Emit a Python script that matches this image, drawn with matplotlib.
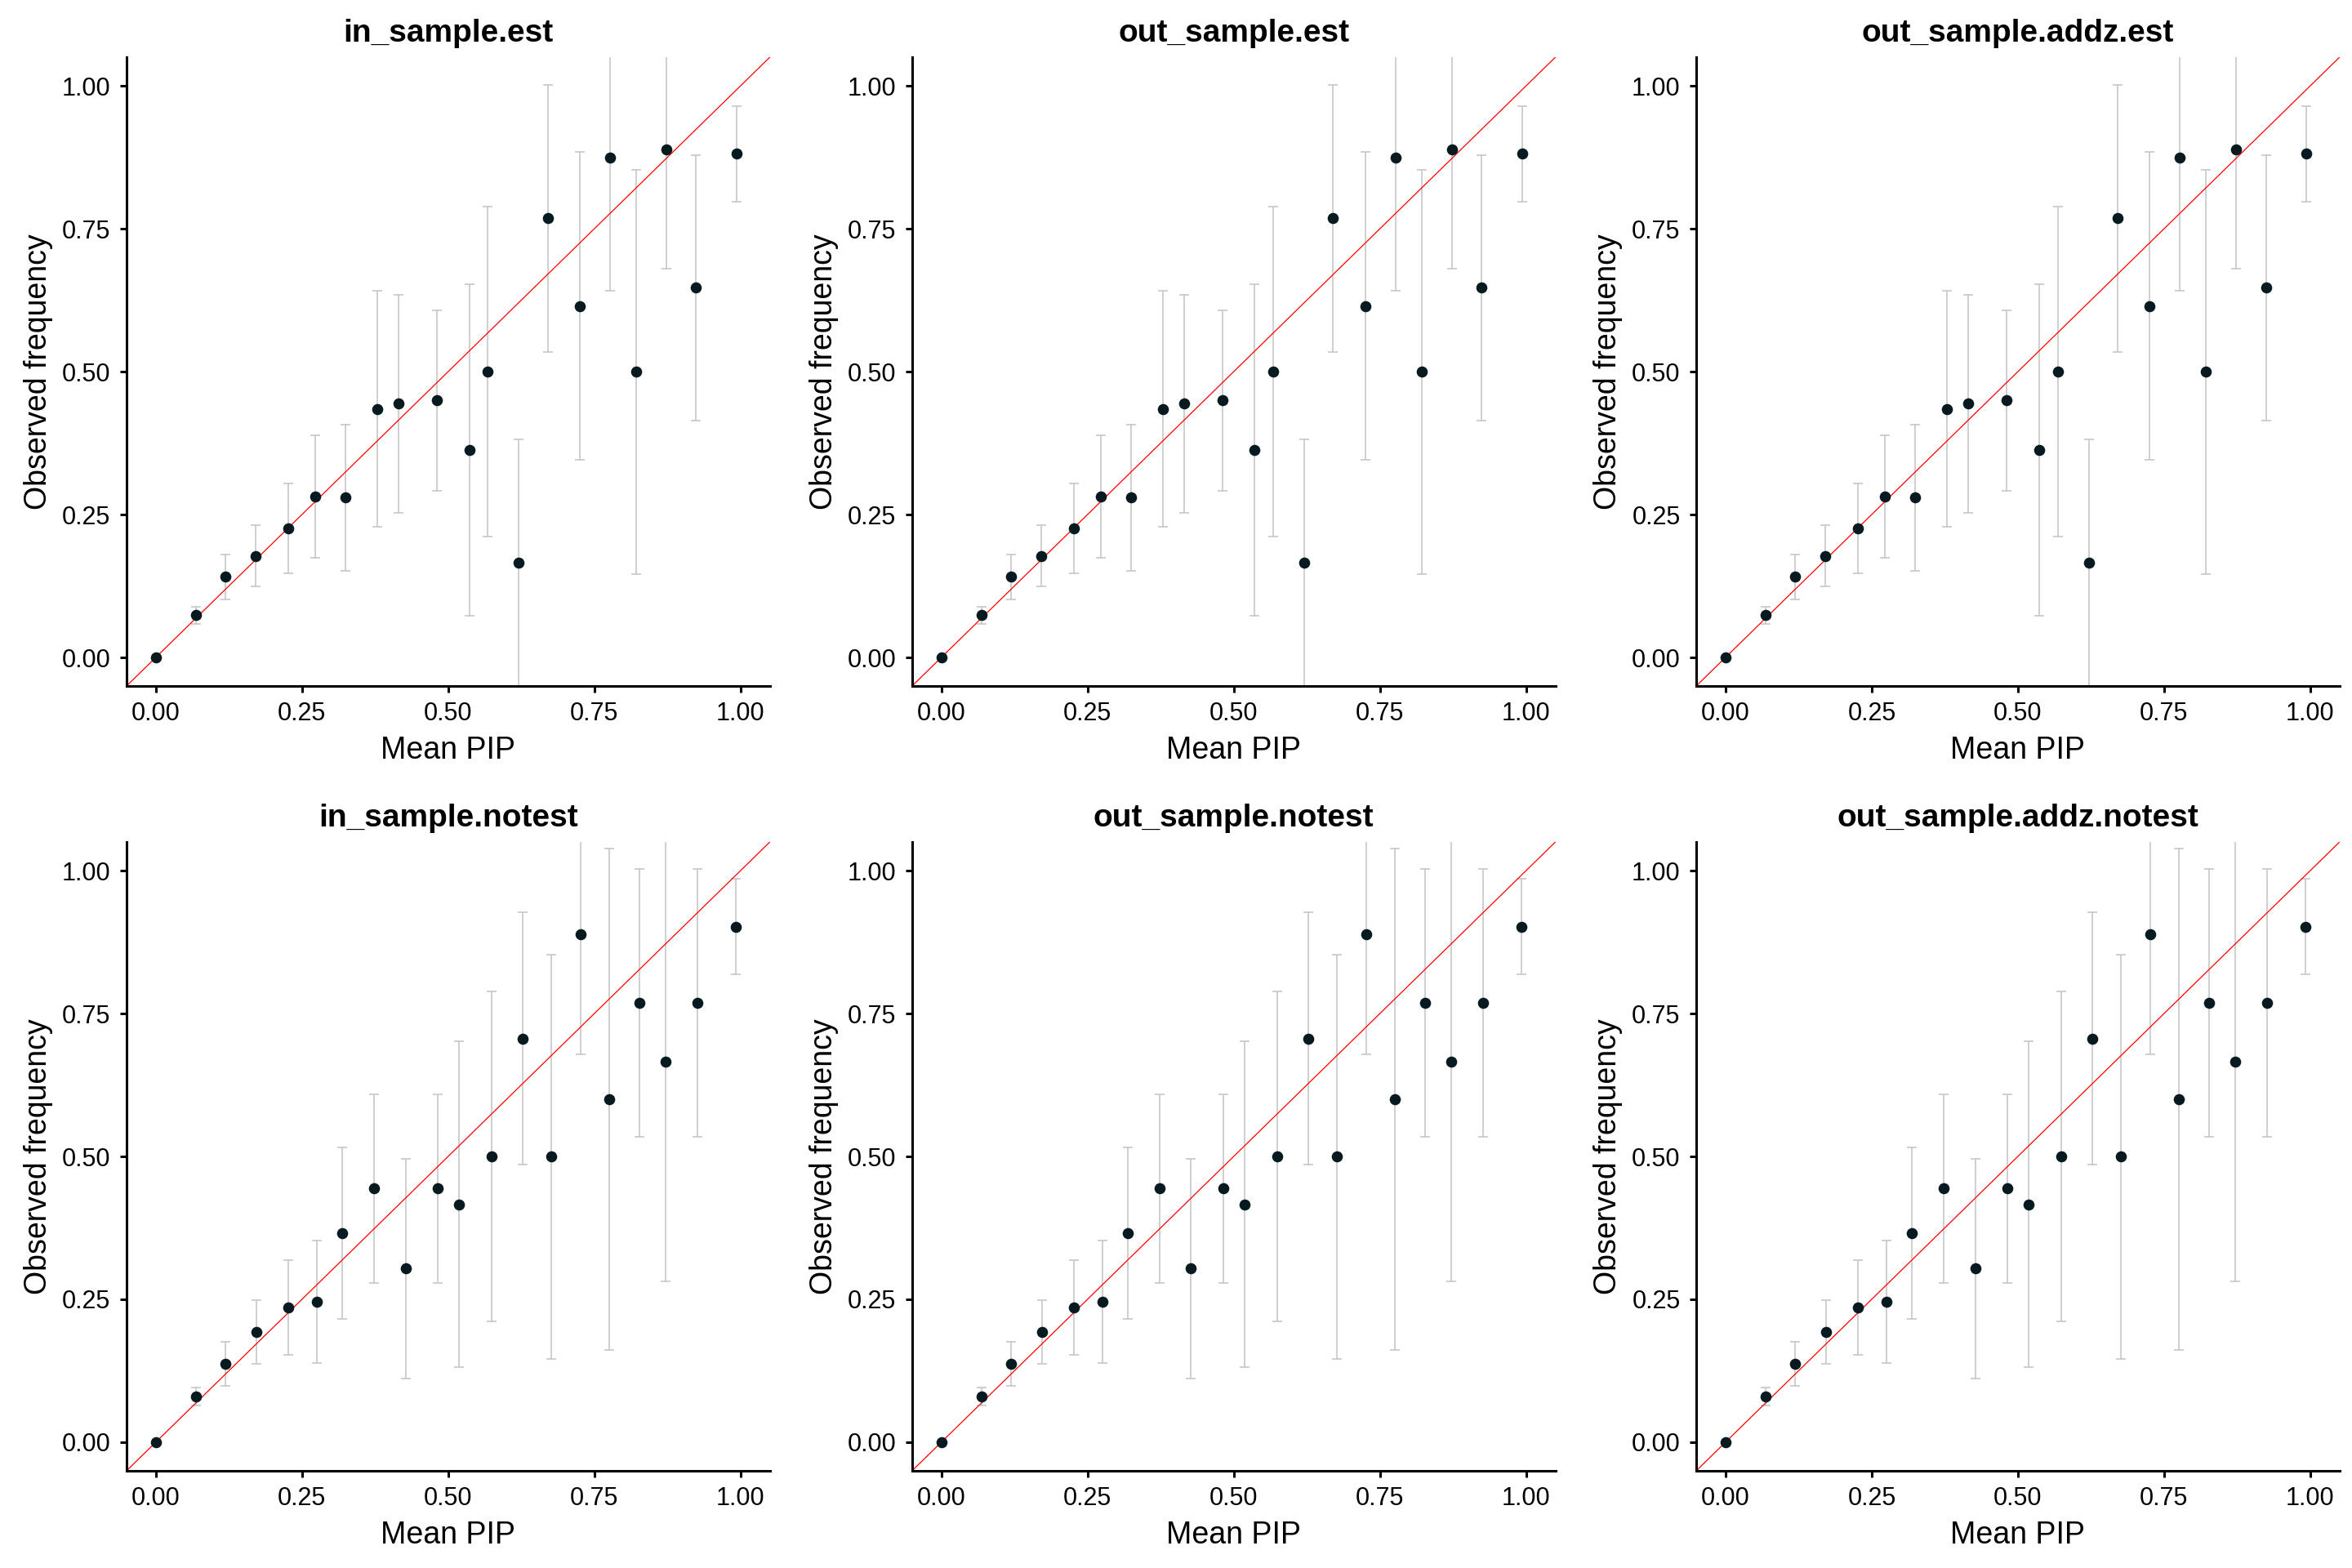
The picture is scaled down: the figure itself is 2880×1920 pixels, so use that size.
import matplotlib
matplotlib.use("Agg")
import matplotlib.pyplot as plt

plt.rcParams['font.family'] = ['Liberation Sans', 'DejaVu Sans']

# binned calibration, with estimated prior ("est")
est_pip = [0.000, 0.069, 0.119, 0.171, 0.227, 0.273, 0.324, 0.379, 0.415, 0.481,
           0.536, 0.568, 0.621, 0.670, 0.725, 0.777, 0.821, 0.873, 0.924, 0.993]
est_freq = [0.000, 0.075, 0.141, 0.177, 0.226, 0.282, 0.280, 0.434, 0.444, 0.450,
            0.363, 0.500, 0.166, 0.769, 0.614, 0.875, 0.500, 0.889, 0.647, 0.881]
est_lo = [0.000, 0.059, 0.102, 0.124, 0.147, 0.175, 0.152, 0.228, 0.253, 0.292,
          0.073, 0.211, -0.08, 0.535, 0.346, 0.641, 0.146, 0.680, 0.415, 0.797]
est_hi = [0.000, 0.089, 0.180, 0.232, 0.304, 0.388, 0.407, 0.641, 0.635, 0.607,
          0.653, 0.789, 0.381, 1.002, 0.885, 1.08, 0.853, 1.08, 0.879, 0.965]

# binned calibration, without estimated prior ("notest")
notest_pip = [0.000, 0.069, 0.119, 0.172, 0.227, 0.276, 0.319, 0.373, 0.427, 0.482,
              0.518, 0.574, 0.627, 0.676, 0.727, 0.775, 0.827, 0.872, 0.926, 0.992]
notest_freq = [0.000, 0.080, 0.137, 0.193, 0.235, 0.245, 0.366, 0.444, 0.304, 0.444,
               0.416, 0.500, 0.706, 0.500, 0.889, 0.600, 0.769, 0.666, 0.769, 0.902]
notest_lo = [0.000, 0.064, 0.099, 0.137, 0.153, 0.139, 0.215, 0.278, 0.112, 0.278,
             0.131, 0.211, 0.485, 0.146, 0.679, 0.162, 0.535, 0.281, 0.535, 0.819]
notest_hi = [0.000, 0.096, 0.175, 0.248, 0.318, 0.353, 0.516, 0.609, 0.496, 0.609,
             0.701, 0.789, 0.927, 0.853, 1.08, 1.039, 1.003, 1.08, 1.003, 0.986]

titles = [["in_sample.est", "out_sample.est", "out_sample.addz.est"],
          ["in_sample.notest", "out_sample.notest", "out_sample.addz.notest"]]
data = [(est_pip, est_freq, est_lo, est_hi),
        (notest_pip, notest_freq, notest_lo, notest_hi)]

fig = plt.figure(figsize=(14.4, 9.6), dpi=200)

lefts = [0.0538, 0.3878, 0.7212]
bottoms = [0.5625, 0.062]
w, h = 0.2735, 0.401

for r in range(2):
    x, y, lo, hi = data[r]
    yerr = [[yi - l for yi, l in zip(y, lo)], [u - yi for yi, u in zip(y, hi)]]
    for c in range(3):
        ax = fig.add_axes([lefts[c], bottoms[r], w, h])
        ax.errorbar(x, y, yerr=yerr, fmt='none', ecolor='#c2c2c2',
                    elinewidth=0.55, capsize=2.2, capthick=0.55, zorder=1)
        ax.plot([-0.1, 1.1], [-0.1, 1.1], color='red', lw=0.45, zorder=2)
        ax.scatter(x, y, s=24, color='#061a1f', zorder=3, linewidths=0)
        ax.set_xlim(-0.05, 1.05)
        ax.set_ylim(-0.05, 1.05)
        ticks = [0, 0.25, 0.5, 0.75, 1.0]
        ax.set_xticks(ticks)
        ax.set_yticks(ticks)
        ax.set_xticklabels(["%.2f" % t for t in ticks])
        ax.set_yticklabels(["%.2f" % t for t in ticks])
        for s in ['top', 'right']:
            ax.spines[s].set_visible(False)
        for s in ['left', 'bottom']:
            ax.spines[s].set_linewidth(1.1)
        ax.tick_params(length=3, width=1.1, labelsize=11, pad=4, colors='black')
        ax.set_title(titles[r][c], fontsize=14, fontweight='bold', pad=7)
        ax.set_xlabel("Mean PIP", fontsize=13.5, labelpad=4)
        ax.set_ylabel("Observed frequency", fontsize=13.5, labelpad=4)

fig.savefig("out.png", dpi=200)
